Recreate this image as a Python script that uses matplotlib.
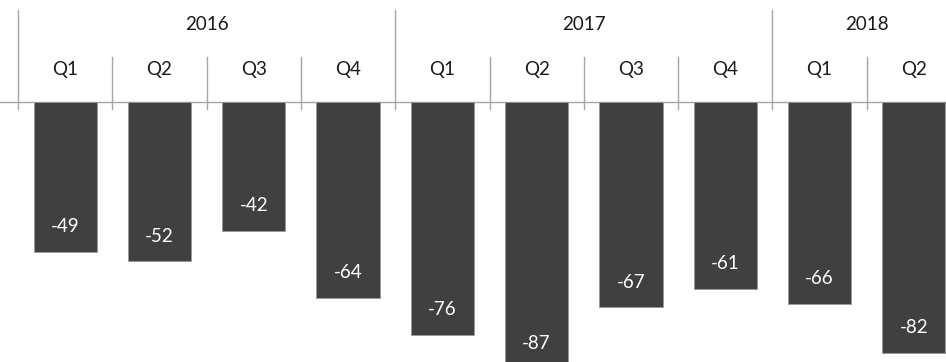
import matplotlib.pyplot as plt
import matplotlib.transforms as mtransforms

years = ['2016', '2017', '2018']
year_spans = [4, 4, 2]
quarters = ['Q1', 'Q2', 'Q3', 'Q4', 'Q1', 'Q2', 'Q3', 'Q4', 'Q1', 'Q2']
values = [-49, -52, -42, -64, -76, -87, -67, -61, -66, -82]

plt.rcParams['font.family'] = ['Lato', 'DejaVu Sans']

fig = plt.figure(figsize=(9.46, 3.62), dpi=100)
ax = fig.add_axes([0, 0, 1, 1])

cat_px = 94.3
left_px = 18
zero_px = 102
unit_px = 3.06
ax.set_xlim(-left_px / cat_px, (946 - left_px) / cat_px)
ax.set_ylim(-(362 - zero_px) / unit_px, zero_px / unit_px)
ax.axis('off')

fs = 13.5
xs = [i + 0.5 for i in range(len(values))]
ax.bar(xs, values, width=0.67, color='#404040', edgecolor='#9a9a9a', linewidth=0.6, zorder=2)

for x, v in zip(xs, values):
    ax.text(x, v + 25 / unit_px, str(v), ha='center', va='center',
            color='white', fontsize=fs, zorder=3)

trans = mtransforms.blended_transform_factory(ax.transData, ax.transAxes)
line_c = '#a6a6a6'

# zero axis line
ax.axhline(0, color=line_c, linewidth=1, zorder=1)

# year dividers and labels
start = 0
for yr, span in zip(years, year_spans):
    ax.plot([start, start], [1 - 10 / 362, 1 - 109 / 362], color=line_c,
            linewidth=1, transform=trans, clip_on=False)
    ax.text(start + span / 2, 1 - 25 / 362, yr, ha='center', va='center',
            fontsize=fs, color='#1a1a1a', transform=trans)
    for k in range(1, span):
        ax.plot([start + k, start + k], [1 - 57 / 362, 1 - 109 / 362],
                color=line_c, linewidth=1, transform=trans)
    start += span

for x, q in zip(xs, quarters):
    ax.text(x, 1 - 70 / 362, q, ha='center', va='center', fontsize=fs,
            color='#1a1a1a', transform=trans)

fig.savefig('out.png', dpi=100)
